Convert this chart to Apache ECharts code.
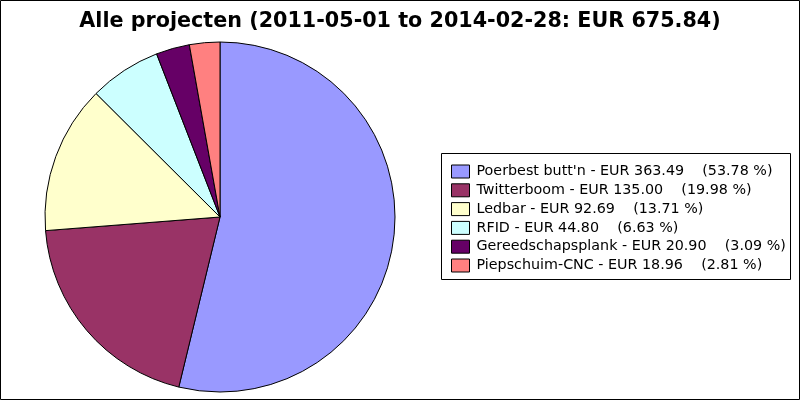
<!DOCTYPE html>
<html><head><meta charset="utf-8">
<script src="https://cdn.jsdelivr.net/npm/echarts@6/dist/echarts.min.js"></script>
<style>html,body{margin:0;padding:0;background:#fff}#c{width:800px;height:400px}</style>
</head><body><div id="c"></div>
<script>
const titleText = "Alle projecten (2011-05-01 to 2014-02-28: EUR 675.84)";
const categories = ["Poerbest butt'n", "Twitterboom", "Ledbar", "RFID", "Gereedschapsplank", "Piepschuim-CNC"];
const amounts = [363.49, 135.00, 92.69, 44.80, 20.90, 18.96];
const percents = ["53.78", "19.98", "13.71", "6.63", "3.09", "2.81"];
const colors = ["#9999ff", "#993366", "#ffffcc", "#ccffff", "#660066", "#ff8080"];

const chart = echarts.init(document.getElementById('c'), null, {renderer: 'canvas'});
const data = categories.map((n, i) => ({name: n, value: amounts[i], itemStyle: {color: colors[i]}}));
const labelMap = {};
categories.forEach((n, i) => {
  labelMap[n] = n + ' - EUR ' + amounts[i].toFixed(2) + '    (' + percents[i] + ' %)';
});
chart.setOption({
  animation: false,
  backgroundColor: '#fff',
  title: {
    text: titleText, left: 'center', top: 6,
    textStyle: {fontFamily: 'DejaVu Sans', fontWeight: 'bold', fontSize: 20.7, color: '#000'}
  },
  legend: {
    orient: 'vertical', left: 451, top: 164.5, padding: 0,
    itemWidth: 18, itemHeight: 13, itemGap: 4.8,
    icon: 'rect',
    itemStyle: {borderColor: '#000', borderWidth: 1},
    textStyle: {fontFamily: 'DejaVu Sans', fontSize: 14.3, color: '#000', padding: [0, 0, 0, 2]},
    formatter: n => labelMap[n],
    selectedMode: false
  },
  graphic: [
    {type: 'rect', shape: {x: 0.5, y: 0.5, width: 799, height: 399}, style: {fill: null, stroke: '#000', lineWidth: 1}, silent: true, z: 100},
    {type: 'rect', shape: {x: 441.5, y: 153.5, width: 349, height: 126}, style: {fill: null, stroke: '#000', lineWidth: 1}, silent: true, z: 100}
  ],
  series: [{
    type: 'pie',
    center: [220, 217], radius: 175,
    startAngle: 90, clockwise: true,
    label: {show: false}, labelLine: {show: false},
    itemStyle: {borderColor: '#000', borderWidth: 1},
    emphasis: {disabled: true},
    data: data
  }]
});
</script></body></html>
